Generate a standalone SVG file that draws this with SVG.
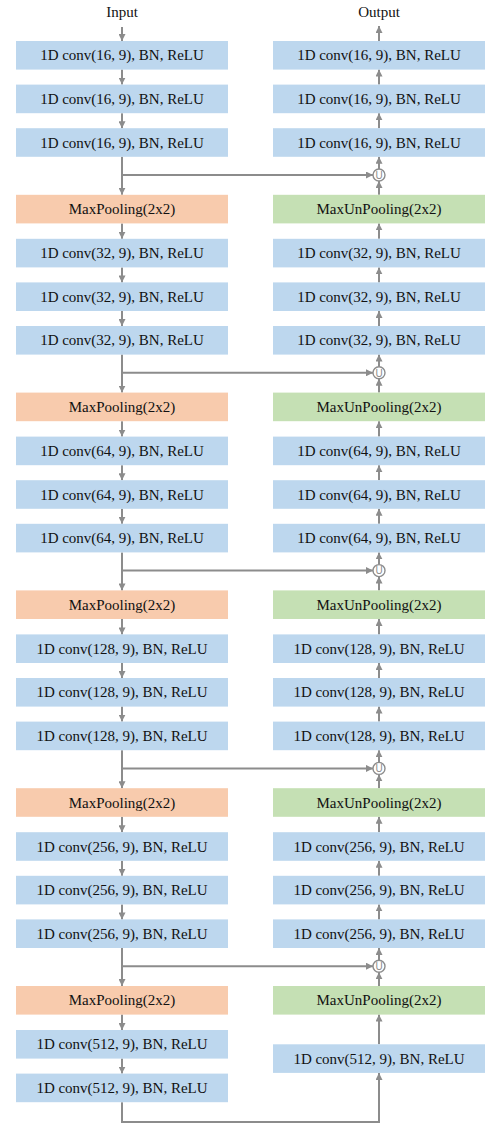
<svg xmlns="http://www.w3.org/2000/svg" width="485" height="1124" viewBox="0 0 485 1124">
<style>
.conv{fill:#BDD7EE}
.pool{fill:#F8CBAD}
.unpool{fill:#C5E0B4}
text{font-family:"Liberation Serif","Times New Roman",serif;font-size:15px;fill:#111;text-anchor:middle;dominant-baseline:central}
.c{fill:none;stroke:#8c8c8c;stroke-width:2}
.u{fill:#fff;stroke:#8c8c8c;stroke-width:1.4}
.ut{font-family:"Liberation Sans",Arial,sans-serif;font-size:10px;fill:#8c8c8c}
</style>
<defs>
<marker id="a" markerUnits="userSpaceOnUse" markerWidth="7" markerHeight="7" refX="7" refY="3.5" orient="auto">
<path d="M0,0 L7,3.5 L0,7 z" fill="#8c8c8c"/>
</marker>
</defs>
<text x="122" y="12">Input</text>
<text x="379" y="12">Output</text>
<g id="connectors">
<path class="c" d="M122 27V41" marker-end="url(#a)"/>
<path class="c" d="M379 41V26" marker-end="url(#a)"/>
<path class="c" d="M122 69.6V84.6" marker-end="url(#a)"/>
<path class="c" d="M122 113.2V128.2" marker-end="url(#a)"/>
<path class="c" d="M122 156.8V194.8" marker-end="url(#a)"/>
<path class="c" d="M122 175H373" marker-end="url(#a)"/>
<path class="c" d="M122 223.4V238.8" marker-end="url(#a)"/>
<path class="c" d="M122 267.4V282.4" marker-end="url(#a)"/>
<path class="c" d="M122 311V326" marker-end="url(#a)"/>
<path class="c" d="M122 354.6V392.6" marker-end="url(#a)"/>
<path class="c" d="M122 372.8H373" marker-end="url(#a)"/>
<path class="c" d="M122 421.2V436.6" marker-end="url(#a)"/>
<path class="c" d="M122 465.2V480.2" marker-end="url(#a)"/>
<path class="c" d="M122 508.8V523.8" marker-end="url(#a)"/>
<path class="c" d="M122 552.4V590.4" marker-end="url(#a)"/>
<path class="c" d="M122 570.6H373" marker-end="url(#a)"/>
<path class="c" d="M122 619V634.4" marker-end="url(#a)"/>
<path class="c" d="M122 663V678" marker-end="url(#a)"/>
<path class="c" d="M122 706.6V721.6" marker-end="url(#a)"/>
<path class="c" d="M122 750.2V788.2" marker-end="url(#a)"/>
<path class="c" d="M122 768.4H373" marker-end="url(#a)"/>
<path class="c" d="M122 816.8V832.2" marker-end="url(#a)"/>
<path class="c" d="M122 860.8V875.8" marker-end="url(#a)"/>
<path class="c" d="M122 904.4V919.4" marker-end="url(#a)"/>
<path class="c" d="M122 948V986" marker-end="url(#a)"/>
<path class="c" d="M122 966.2H373" marker-end="url(#a)"/>
<path class="c" d="M122 1014.6V1030" marker-end="url(#a)"/>
<path class="c" d="M122 1058.6V1073.6" marker-end="url(#a)"/>
<path class="c" d="M122 1102.2V1122H379V1072.9" marker-end="url(#a)"/>
<path class="c" d="M379 84.6V69.6" marker-end="url(#a)"/>
<path class="c" d="M379 128.2V113.2" marker-end="url(#a)"/>
<path class="c" d="M379 169V156.8" marker-end="url(#a)"/>
<path class="c" d="M379 194.8V181" marker-end="url(#a)"/>
<path class="c" d="M379 238.8V223.4" marker-end="url(#a)"/>
<path class="c" d="M379 282.4V267.4" marker-end="url(#a)"/>
<path class="c" d="M379 326V311" marker-end="url(#a)"/>
<path class="c" d="M379 366.8V354.6" marker-end="url(#a)"/>
<path class="c" d="M379 392.6V378.8" marker-end="url(#a)"/>
<path class="c" d="M379 436.6V421.2" marker-end="url(#a)"/>
<path class="c" d="M379 480.2V465.2" marker-end="url(#a)"/>
<path class="c" d="M379 523.8V508.8" marker-end="url(#a)"/>
<path class="c" d="M379 564.6V552.4" marker-end="url(#a)"/>
<path class="c" d="M379 590.4V576.6" marker-end="url(#a)"/>
<path class="c" d="M379 634.4V619" marker-end="url(#a)"/>
<path class="c" d="M379 678V663" marker-end="url(#a)"/>
<path class="c" d="M379 721.6V706.6" marker-end="url(#a)"/>
<path class="c" d="M379 762.4V750.2" marker-end="url(#a)"/>
<path class="c" d="M379 788.2V774.4" marker-end="url(#a)"/>
<path class="c" d="M379 832.2V816.8" marker-end="url(#a)"/>
<path class="c" d="M379 875.8V860.8" marker-end="url(#a)"/>
<path class="c" d="M379 919.4V904.4" marker-end="url(#a)"/>
<path class="c" d="M379 960.2V948" marker-end="url(#a)"/>
<path class="c" d="M379 986V972.2" marker-end="url(#a)"/>
<path class="c" d="M379 1044.3V1014.6" marker-end="url(#a)"/>
</g>
<g id="u0"><circle class="u" cx="379" cy="175" r="6"/><text class="ut" x="379" y="175.3">U</text></g>
<g id="u1"><circle class="u" cx="379" cy="372.8" r="6"/><text class="ut" x="379" y="373.1">U</text></g>
<g id="u2"><circle class="u" cx="379" cy="570.6" r="6"/><text class="ut" x="379" y="570.9">U</text></g>
<g id="u3"><circle class="u" cx="379" cy="768.4" r="6"/><text class="ut" x="379" y="768.7">U</text></g>
<g id="u4"><circle class="u" cx="379" cy="966.2" r="6"/><text class="ut" x="379" y="966.5">U</text></g>
<g id="e0a"><rect class="conv" x="16" y="41" width="212" height="28.6"/><text x="122" y="55.3">1D conv(16, 9), BN, ReLU</text></g>
<g id="e0b"><rect class="conv" x="16" y="84.6" width="212" height="28.6"/><text x="122" y="98.9">1D conv(16, 9), BN, ReLU</text></g>
<g id="e0c"><rect class="conv" x="16" y="128.2" width="212" height="28.6"/><text x="122" y="142.5">1D conv(16, 9), BN, ReLU</text></g>
<g id="p1"><rect class="pool" x="16" y="194.8" width="212" height="28.6"/><text x="122" y="209.1">MaxPooling(2x2)</text></g>
<g id="e1a"><rect class="conv" x="16" y="238.8" width="212" height="28.6"/><text x="122" y="253.1">1D conv(32, 9), BN, ReLU</text></g>
<g id="e1b"><rect class="conv" x="16" y="282.4" width="212" height="28.6"/><text x="122" y="296.7">1D conv(32, 9), BN, ReLU</text></g>
<g id="e1c"><rect class="conv" x="16" y="326" width="212" height="28.6"/><text x="122" y="340.3">1D conv(32, 9), BN, ReLU</text></g>
<g id="p2"><rect class="pool" x="16" y="392.6" width="212" height="28.6"/><text x="122" y="406.9">MaxPooling(2x2)</text></g>
<g id="e2a"><rect class="conv" x="16" y="436.6" width="212" height="28.6"/><text x="122" y="450.9">1D conv(64, 9), BN, ReLU</text></g>
<g id="e2b"><rect class="conv" x="16" y="480.2" width="212" height="28.6"/><text x="122" y="494.5">1D conv(64, 9), BN, ReLU</text></g>
<g id="e2c"><rect class="conv" x="16" y="523.8" width="212" height="28.6"/><text x="122" y="538.1">1D conv(64, 9), BN, ReLU</text></g>
<g id="p3"><rect class="pool" x="16" y="590.4" width="212" height="28.6"/><text x="122" y="604.7">MaxPooling(2x2)</text></g>
<g id="e3a"><rect class="conv" x="16" y="634.4" width="212" height="28.6"/><text x="122" y="648.7">1D conv(128, 9), BN, ReLU</text></g>
<g id="e3b"><rect class="conv" x="16" y="678" width="212" height="28.6"/><text x="122" y="692.3">1D conv(128, 9), BN, ReLU</text></g>
<g id="e3c"><rect class="conv" x="16" y="721.6" width="212" height="28.6"/><text x="122" y="735.9">1D conv(128, 9), BN, ReLU</text></g>
<g id="p4"><rect class="pool" x="16" y="788.2" width="212" height="28.6"/><text x="122" y="802.5">MaxPooling(2x2)</text></g>
<g id="e4a"><rect class="conv" x="16" y="832.2" width="212" height="28.6"/><text x="122" y="846.5">1D conv(256, 9), BN, ReLU</text></g>
<g id="e4b"><rect class="conv" x="16" y="875.8" width="212" height="28.6"/><text x="122" y="890.1">1D conv(256, 9), BN, ReLU</text></g>
<g id="e4c"><rect class="conv" x="16" y="919.4" width="212" height="28.6"/><text x="122" y="933.7">1D conv(256, 9), BN, ReLU</text></g>
<g id="p5"><rect class="pool" x="16" y="986" width="212" height="28.6"/><text x="122" y="1000.3">MaxPooling(2x2)</text></g>
<g id="e5a"><rect class="conv" x="16" y="1030" width="212" height="28.6"/><text x="122" y="1044.3">1D conv(512, 9), BN, ReLU</text></g>
<g id="e5b"><rect class="conv" x="16" y="1073.6" width="212" height="28.6"/><text x="122" y="1087.9">1D conv(512, 9), BN, ReLU</text></g>
<g id="d0a"><rect class="conv" x="273" y="41" width="212" height="28.6"/><text x="379" y="55.3">1D conv(16, 9), BN, ReLU</text></g>
<g id="d0b"><rect class="conv" x="273" y="84.6" width="212" height="28.6"/><text x="379" y="98.9">1D conv(16, 9), BN, ReLU</text></g>
<g id="d0c"><rect class="conv" x="273" y="128.2" width="212" height="28.6"/><text x="379" y="142.5">1D conv(16, 9), BN, ReLU</text></g>
<g id="up1"><rect class="unpool" x="273" y="194.8" width="212" height="28.6"/><text x="379" y="209.1">MaxUnPooling(2x2)</text></g>
<g id="d1a"><rect class="conv" x="273" y="238.8" width="212" height="28.6"/><text x="379" y="253.1">1D conv(32, 9), BN, ReLU</text></g>
<g id="d1b"><rect class="conv" x="273" y="282.4" width="212" height="28.6"/><text x="379" y="296.7">1D conv(32, 9), BN, ReLU</text></g>
<g id="d1c"><rect class="conv" x="273" y="326" width="212" height="28.6"/><text x="379" y="340.3">1D conv(32, 9), BN, ReLU</text></g>
<g id="up2"><rect class="unpool" x="273" y="392.6" width="212" height="28.6"/><text x="379" y="406.9">MaxUnPooling(2x2)</text></g>
<g id="d2a"><rect class="conv" x="273" y="436.6" width="212" height="28.6"/><text x="379" y="450.9">1D conv(64, 9), BN, ReLU</text></g>
<g id="d2b"><rect class="conv" x="273" y="480.2" width="212" height="28.6"/><text x="379" y="494.5">1D conv(64, 9), BN, ReLU</text></g>
<g id="d2c"><rect class="conv" x="273" y="523.8" width="212" height="28.6"/><text x="379" y="538.1">1D conv(64, 9), BN, ReLU</text></g>
<g id="up3"><rect class="unpool" x="273" y="590.4" width="212" height="28.6"/><text x="379" y="604.7">MaxUnPooling(2x2)</text></g>
<g id="d3a"><rect class="conv" x="273" y="634.4" width="212" height="28.6"/><text x="379" y="648.7">1D conv(128, 9), BN, ReLU</text></g>
<g id="d3b"><rect class="conv" x="273" y="678" width="212" height="28.6"/><text x="379" y="692.3">1D conv(128, 9), BN, ReLU</text></g>
<g id="d3c"><rect class="conv" x="273" y="721.6" width="212" height="28.6"/><text x="379" y="735.9">1D conv(128, 9), BN, ReLU</text></g>
<g id="up4"><rect class="unpool" x="273" y="788.2" width="212" height="28.6"/><text x="379" y="802.5">MaxUnPooling(2x2)</text></g>
<g id="d4a"><rect class="conv" x="273" y="832.2" width="212" height="28.6"/><text x="379" y="846.5">1D conv(256, 9), BN, ReLU</text></g>
<g id="d4b"><rect class="conv" x="273" y="875.8" width="212" height="28.6"/><text x="379" y="890.1">1D conv(256, 9), BN, ReLU</text></g>
<g id="d4c"><rect class="conv" x="273" y="919.4" width="212" height="28.6"/><text x="379" y="933.7">1D conv(256, 9), BN, ReLU</text></g>
<g id="up5"><rect class="unpool" x="273" y="986" width="212" height="28.6"/><text x="379" y="1000.3">MaxUnPooling(2x2)</text></g>
<g id="d5"><rect class="conv" x="273" y="1044.3" width="212" height="28.6"/><text x="379" y="1058.6">1D conv(512, 9), BN, ReLU</text></g>
</svg>
